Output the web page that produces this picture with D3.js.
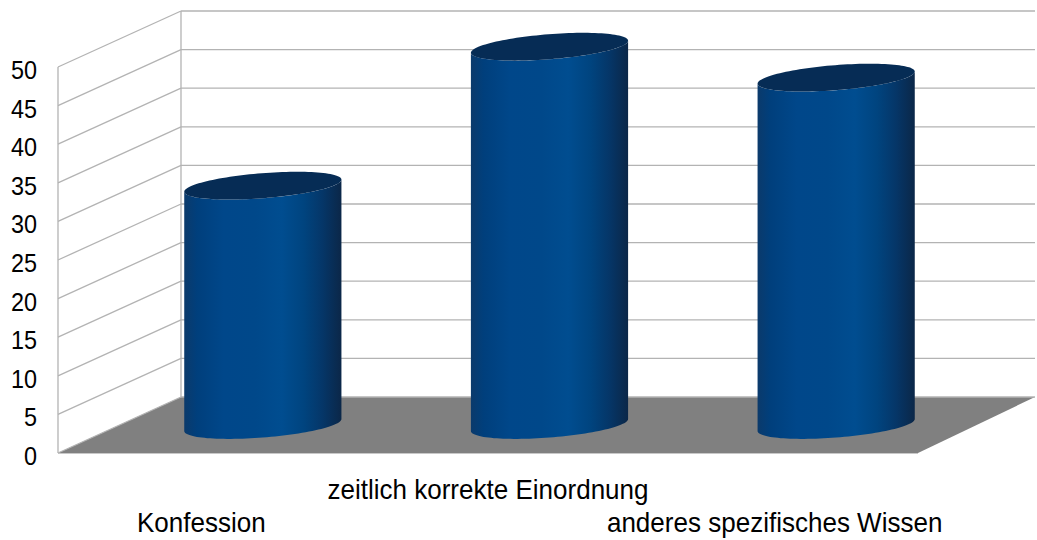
<!DOCTYPE html>
<html>
<head>
<meta charset="utf-8">
<script src="https://cdn.jsdelivr.net/npm/d3@7"></script>
<style>
  html, body { margin: 0; padding: 0; background: #ffffff; }
  svg { display: block; }
  text { font-family: "Liberation Sans", Arial, sans-serif; fill: #000; }
</style>
</head>
<body>
<script>
// Data
const categories = ["Konfession", "zeitlich korrekte Einordnung", "anderes spezifisches Wissen"];
const values = [31, 49, 45];
const yTicks = [0, 5, 10, 15, 20, 25, 30, 35, 40, 45, 50];

const W = 1037, H = 540;
const svg = d3.select("body").append("svg").attr("width", W).attr("height", H);

// Front plane scales and the depth offset to the back wall
const y = d3.scaleLinear().domain([0, 50]).range([453, 67]);
const xFront = d3.scaleBand().domain(categories).range([58, 918]);
const depth = { dx: 123, dy: -56 };
const backRight = 1035;
const gridColor = "#b3b3b3";

// Body shading of the cylinders
const defs = svg.append("defs");
const grad = defs.append("linearGradient").attr("id", "cylBody")
  .attr("x1", 0).attr("x2", 1).attr("y1", 0).attr("y2", 0);
[[0, "#0b3a6b"], [0.08, "#003f7c"], [0.25, "#00478a"], [0.45, "#00488a"],
 [0.62, "#004d90"], [0.76, "#00447f"], [0.88, "#053668"], [1, "#0b2748"]]
  .forEach(([o, c]) => grad.append("stop").attr("offset", o).attr("stop-color", c));

// Floor
const floorPts = [
  [xFront.range()[0], y(0)],
  [xFront.range()[0] + depth.dx, y(0) + depth.dy],
  [backRight, y(0) + depth.dy],
  [xFront.range()[1], y(0)]
];
svg.append("path")
  .attr("d", d3.line()(floorPts) + "Z")
  .attr("fill", "#808080");

// Front edge of the floor
svg.append("line")
  .attr("x1", xFront.range()[0]).attr("x2", xFront.range()[1])
  .attr("y1", y(0) + 0.5).attr("y2", y(0) + 0.5)
  .attr("stroke", "#c8c8c8").attr("stroke-width", 1.2);

// Back wall grid lines
const grid = svg.append("g").attr("stroke", gridColor).attr("stroke-width", 1.3).attr("fill", "none");
yTicks.forEach(t => {
  const x0 = xFront.range()[0], yb = y(t) + depth.dy;
  grid.append("line")
    .attr("x1", x0 + depth.dx).attr("x2", backRight)
    .attr("y1", yb).attr("y2", yb);
  // side wall diagonals
  grid.append("line")
    .attr("x1", x0).attr("y1", y(t))
    .attr("x2", x0 + depth.dx).attr("y2", yb);
});
// wall edges
grid.append("line")
  .attr("x1", xFront.range()[0]).attr("x2", xFront.range()[0])
  .attr("y1", y(0)).attr("y2", y(50));
grid.append("line")
  .attr("x1", xFront.range()[0] + depth.dx).attr("x2", xFront.range()[0] + depth.dx)
  .attr("y1", y(0) + depth.dy).attr("y2", y(50) + depth.dy);

// Y axis tick labels (slightly condensed face)
svg.append("g").selectAll("text").data(yTicks).join("text")
  .attr("transform", d => `translate(37,${y(d) + 12}) scale(0.9,1)`)
  .attr("text-anchor", "end")
  .attr("font-size", 26)
  .text(d => d);

// Cylinders, placed mid-depth
const phi = -4.5 * Math.PI / 180;
const rb = 12.5;
function ellipsePt(cx, cy, a, t) {
  return [
    cx + a * Math.cos(t) * Math.cos(phi) - rb * Math.sin(t) * Math.sin(phi),
    cy + a * Math.cos(t) * Math.sin(phi) + rb * Math.sin(t) * Math.cos(phi)
  ];
}
function arc(cx, cy, a, t0, t1, n) {
  return d3.range(n + 1).map(i => ellipsePt(cx, cy, a, t0 + (t1 - t0) * i / n));
}

const bw = xFront.bandwidth();
const a = bw * 0.55 / 2;
const tR = Math.atan2(-rb * Math.sin(phi), a * Math.cos(phi));
const tL = tR + Math.PI;

const cyl = svg.append("g").selectAll("g").data(categories).join("g");
cyl.each(function (c, i) {
  const g = d3.select(this);
  const cx = xFront(c) + bw / 2 + depth.dx / 2;
  const yBase = y(0) + depth.dy / 2;
  const yTop = y(values[i]) + depth.dy / 2;

  const bottomArc = arc(cx, yBase, a, tL, tR, 60);      // lower half, left to right
  const topArc = arc(cx, yTop, a, tR, tL, 60);           // lower half, right to left
  const body = [ellipsePt(cx, yTop, a, tL)].concat(bottomArc, topArc);
  g.append("path")
    .attr("d", d3.line()(body) + "Z")
    .attr("fill", "url(#cylBody)");

  const lid = arc(cx, yTop, a, 0, 2 * Math.PI, 120);
  g.append("path")
    .attr("d", d3.line()(lid) + "Z")
    .attr("fill", "#062c55");
});

// Category labels, staggered on two rows
svg.append("g").selectAll("text").data(categories).join("text")
  .attr("transform", (d, i) => `translate(${xFront(d) + bw / 2},${i % 2 === 1 ? 499 : 532}) scale(0.93,1)`)
  .attr("text-anchor", "middle")
  .attr("font-size", 28)
  .text(d => d);
</script>
</body>
</html>
